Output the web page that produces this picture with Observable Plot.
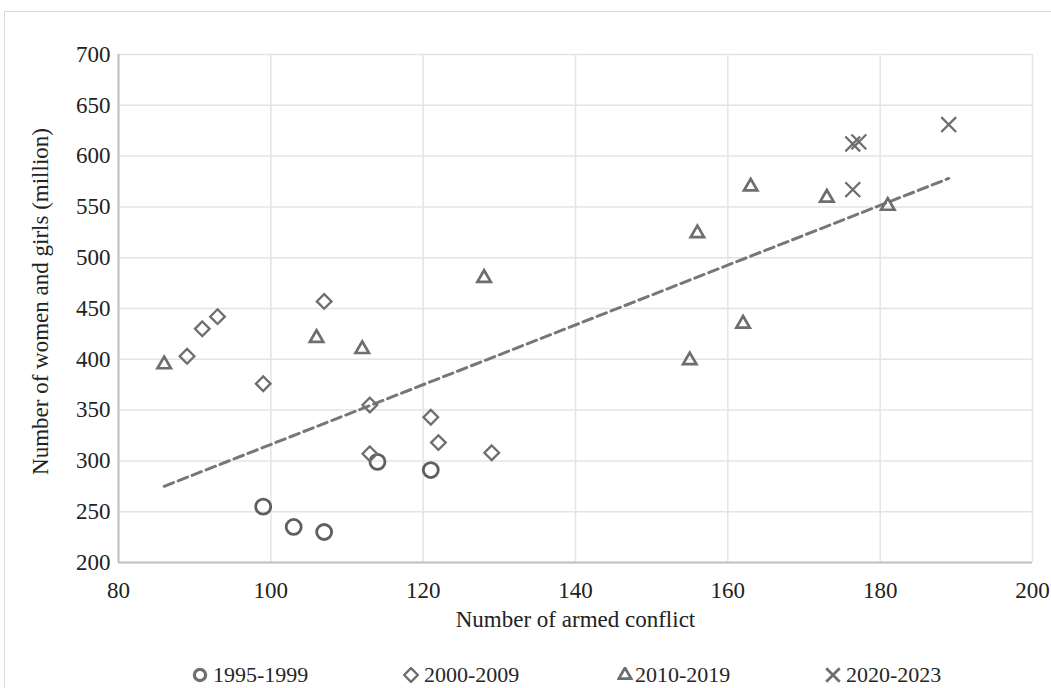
<!DOCTYPE html>
<html><head><meta charset="utf-8">
<script src="https://cdn.jsdelivr.net/npm/d3@7"></script>
<script src="https://cdn.jsdelivr.net/npm/@observablehq/plot@0.6"></script>
<style>
body{margin:0;background:#fff;font-family:"Liberation Serif","Times New Roman",serif;}
#frame{position:absolute;left:4px;top:11px;width:1100px;height:720px;border:1.5px solid #d9d9d9;box-sizing:border-box}
#chart{position:absolute;left:0;top:0}
#legend{position:absolute;left:0;top:662px;width:1051px;height:26px}
.item{position:absolute;top:0;height:26px;display:flex;align-items:center;font-size:22px;color:#262626;white-space:nowrap}
</style></head><body>
<div id="frame"></div><div id="chart"></div><div id="legend"></div>
<script>
const seriesNames = ["1995-1999", "2000-2009", "2010-2019", "2020-2023"];
const conflicts1995 = [99, 103, 107, 114, 121];
const women1995 = [255, 235, 230, 299, 291];
const conflicts2000 = [89, 91, 93, 99, 107, 113, 113, 121, 122, 129];
const women2000 = [403, 430, 442, 376, 457, 355, 307, 343, 318, 308];
const conflicts2010 = [86, 106, 112, 128, 155, 156, 162, 163, 173, 181];
const women2010 = [395, 421, 410, 480, 399, 524, 435, 570, 559, 551];
const conflicts2020 = [176.4, 177.2, 176.4, 189];
const women2020 = [612, 614, 567, 631];
const trendConflicts = [86, 189];
const trendWomen = [275, 578];
const xTicks = [80, 100, 120, 140, 160, 180, 200];
const yTicks = [200, 250, 300, 350, 400, 450, 500, 550, 600, 650, 700];
const xTitle = "Number of armed conflict";
const yTitle = "Number of women and girls (million)";

const markColor = "#6e6e6e";
const textColor = "#222";
const rows = (xs, ys) => xs.map((x, i) => ({x, y: ys[i]}));

const chart = Plot.plot({
  width: 1051, height: 640,
  marginLeft: 118, marginRight: 19, marginTop: 54, marginBottom: 78,
  style: {fontFamily: "'Liberation Serif', 'Times New Roman', serif", fontSize: "23px", color: textColor, background: "transparent", overflow: "visible"},
  x: {domain: [80, 200], ticks: xTicks},
  y: {domain: [200, 700], ticks: yTicks},
  marks: [
    Plot.gridX(xTicks, {stroke: "#e4e4e4", strokeOpacity: 1, strokeWidth: 1.5}),
    Plot.gridY(yTicks, {stroke: "#e4e4e4", strokeOpacity: 1, strokeWidth: 1.5}),
    Plot.ruleX([xTicks[0]], {stroke: "#bfbfbf", strokeWidth: 2}),
    Plot.ruleY([yTicks[0]], {stroke: "#bfbfbf", strokeWidth: 2}),
    Plot.axisX(xTicks, {tickSize: 0, tickPadding: 19, label: null, fontSize: 23}),
    Plot.axisY(yTicks, {tickSize: 0, tickPadding: 8, label: null, fontSize: 23}),
    Plot.line(rows(trendConflicts, trendWomen), {x: "x", y: "y", stroke: "#777", strokeWidth: 3, strokeDasharray: "10,5"}),
    Plot.dot(rows(conflicts1995, women1995), {x: "x", y: "y", symbol: "circle", r: 7.5, stroke: "#5f5f5f", strokeWidth: 2.8, fill: "none"}),
    Plot.dot(rows(conflicts2000, women2000), {x: "x", y: "y", symbol: "diamond2", r: 6.6, stroke: markColor, strokeWidth: 2.3, fill: "none"}),
    Plot.dot(rows(conflicts2010, women2010), {x: "x", y: "y", symbol: "triangle2", r: 6.4, stroke: markColor, strokeWidth: 2.7, fill: "none"}),
    Plot.dot(rows(conflicts2020, women2020), {x: "x", y: "y", symbol: "times", r: 6.8, stroke: markColor, strokeWidth: 2.3, fill: "none"}),
    Plot.text([xTitle], {frameAnchor: "bottom", dy: 64, fontSize: 23, fill: textColor}),
    Plot.text([yTitle], {frameAnchor: "left", textAnchor: "middle", lineAnchor: "middle", rotate: -90, dx: -78, dy: -7, fontSize: 23, fill: textColor})
  ]
});
document.getElementById("chart").appendChild(chart);

// legend
const legendSymbols = [d3.symbolCircle, d3.symbolDiamond2, d3.symbolTriangle2, d3.symbolTimes];
const legendSizes = [100, 120, 110, 120];
const legendWidths = [3.2, 2.4, 2.8, 2.8];
const legendLeft = [192, 403, 617, 825];
const legendGap = [5, 5, 2, 5];
const legend = document.getElementById("legend");
seriesNames.forEach((name, i) => {
  const item = document.createElement("div");
  item.className = "item";
  item.style.left = legendLeft[i] + "px";
  const path = d3.symbol(legendSymbols[i], legendSizes[i])();
  item.innerHTML = `<svg width="16" height="16" viewBox="-8 -8 16 16" style="margin-right:${legendGap[i]}px"><path d="${path}" fill="none" stroke="${markColor}" stroke-width="${legendWidths[i]}"/></svg><span>${name}</span>`;
  legend.appendChild(item);
});
</script>
</body></html>
